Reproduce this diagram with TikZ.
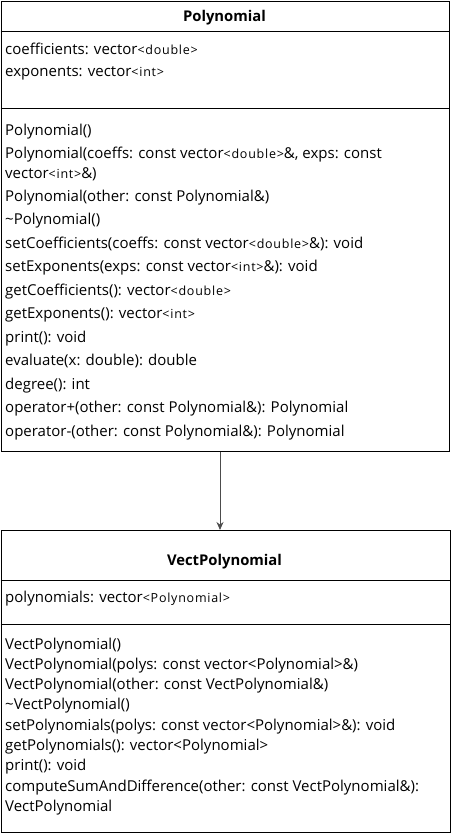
\documentclass[tikz,border=0pt]{standalone}
\usepackage{fontspec}
\setmainfont{Open Sans}
\newfontfamily\smallfam{Open Sans}[LetterSpace=6]
\usetikzlibrary{arrows.meta}
\newcommand\smtxt[1]{{\smallfam\fontsize{12.5}{14}\selectfont #1}}
\begin{document}
\begin{tikzpicture}[x=1pt,y=-1pt,
  box/.style={draw=black, line width=1pt, inner sep=0pt, anchor=north west},
  sepline/.style={draw=black, line width=1pt},
  txt/.style={anchor=base west, inner sep=0pt, font=\fontsize{15}{18}\selectfont},
  ttl/.style={anchor=base, inner sep=0pt, font=\fontsize{14.8}{18}\selectfont\bfseries},
  arr/.style={-{Stealth[length=8pt,width=7pt]}, line width=1pt, draw=black!70, fill=black}]
\useasboundingbox (0,0) rectangle (451,836);
% Polynomial class
\node[box, minimum width=448.5pt, minimum height=450pt] (poly) at (0.5,0.5) {};
\draw[sepline] (0.5,31) -- (449,31);
\draw[sepline] (0.5,108) -- (449,108);
\node[ttl] (ptitle) at (224.5,21) {Polynomial};
\node[txt] (pa1) at (5,54) {coefficients: vector\smtxt{<double>}};
\node[txt] (pa2) at (5,76.5) {exponents: vector\smtxt{<int>}};
\node[txt] (pm1) at (5,135) {Polynomial()};
\node[txt] (pm2) at (5,158) {Polynomial(coeffs: const vector\smtxt{<double>}\&, exps: const};
\node[txt] (pm2b) at (5,178) {vector\smtxt{<int>}\&)};
\node[txt] (pm3) at (5,201) {Polynomial(other: const Polynomial\&)};
\node[txt] (pm4) at (5,224.5) {\textasciitilde Polynomial()};
\node[txt] (pm5) at (5,248) {setCoefficients(coeffs: const vector\smtxt{<double>}\&): void};
\node[txt] (pm6) at (5,271.5) {setExponents(exps: const vector\smtxt{<int>}\&): void};
\node[txt] (pm7) at (5,295) {getCoefficients(): vector\smtxt{<double>}};
\node[txt] (pm8) at (5,318.5) {getExponents(): vector\smtxt{<int>}};
\node[txt] (pm9) at (5,342) {print(): void};
\node[txt] (pm10) at (5,365.5) {evaluate(x: double): double};
\node[txt] (pm11) at (5,389) {degree(): int};
\node[txt] (pm12) at (5,412.5) {operator+(other: const Polynomial\&): Polynomial};
\node[txt] (pm13) at (5,436) {operator-(other: const Polynomial\&): Polynomial};
% VectPolynomial class
\node[box, minimum width=449.5pt, minimum height=302pt] (vect) at (0.5,530) {};
\draw[sepline] (0.5,580) -- (450,580);
\draw[sepline] (0.5,624) -- (450,624);
\node[ttl] (vtitle) at (224.5,565) {VectPolynomial};
\node[txt] (va1) at (5,602.5) {polynomials: vector\smtxt{<Polynomial>}};
\node[txt] (vm1) at (5,649) {VectPolynomial()};
\node[txt] (vm2) at (5,669.3) {VectPolynomial(polys: const vector<Polynomial>\&)};
\node[txt] (vm3) at (5,689.6) {VectPolynomial(other: const VectPolynomial\&)};
\node[txt] (vm4) at (5,709.9) {\textasciitilde VectPolynomial()};
\node[txt] (vm5) at (5,730.2) {setPolynomials(polys: const vector<Polynomial>\&): void};
\node[txt] (vm6) at (5,750.5) {getPolynomials(): vector<Polynomial>};
\node[txt] (vm7) at (5,770.8) {print(): void};
\node[txt] (vm8) at (5,791.1) {computeSumAndDifference(other: const VectPolynomial\&):};
\node[txt] (vm8b) at (5,811.4) {VectPolynomial};
% connector
\draw[arr] (poly.south -| 220,0) -- (vect.north -| 220,0);
\end{tikzpicture}
\end{document}
